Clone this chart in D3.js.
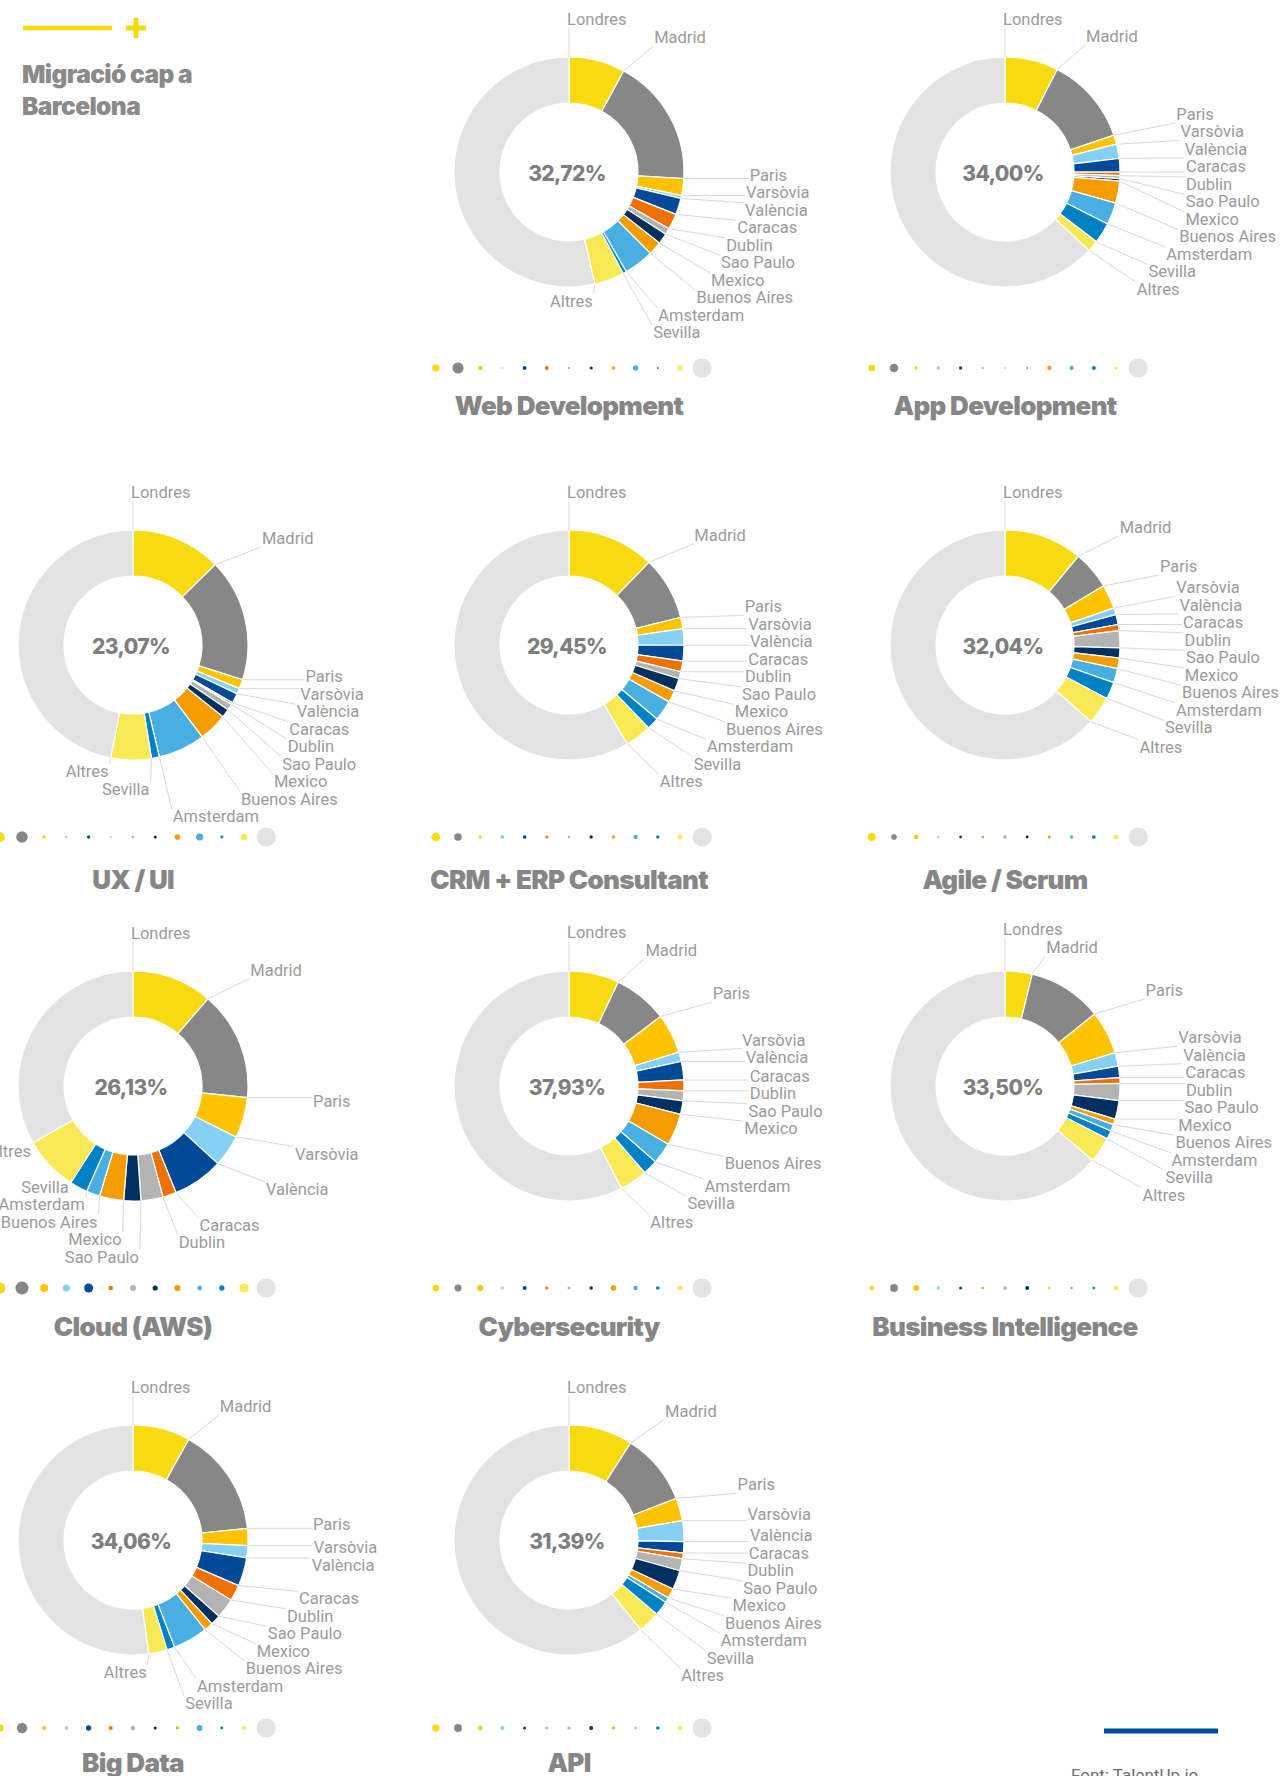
<!DOCTYPE html>
<html>
<head>
<meta charset="utf-8">
<script src="https://cdn.jsdelivr.net/npm/d3@7"></script>
<style>
  html, body { margin: 0; padding: 0; background: #fff; }
  svg { display: block; }
  .lbl { font-family: Roboto, "Liberation Sans", sans-serif; font-size: 16.5px; fill: #9b9b9b; }
  .pct { font-family: Inter, Roboto, sans-serif; font-weight: 800; font-size: 21px; fill: #7e7e7e; letter-spacing: -0.6px; }
  .ttl { font-family: Inter, Roboto, sans-serif; font-weight: 900; font-size: 26px; fill: #868686; letter-spacing: -0.7px; }
  .head { font-family: Inter, Roboto, sans-serif; font-weight: 900; font-size: 24.5px; fill: #8a8a8a; letter-spacing: -0.6px; }
  .src { font-family: Roboto, "Liberation Sans", sans-serif; font-size: 17px; fill: #6e6e6e; }
</style>
</head>
<body>
<svg id="chart" width="1287" height="1776"></svg>
<script>
// Destination cities, in slice order (clockwise from 12 o'clock)
const cities = ["Londres", "Madrid", "Paris", "Varsòvia", "València", "Caracas", "Dublin",
                "Sao Paulo", "Mexico", "Buenos Aires", "Amsterdam", "Sevilla", "Altres"];

// Professional profiles, one donut each
const profiles = ["Web Development", "App Development", "UX / UI", "CRM + ERP Consultant",
                  "Agile / Scrum", "Cloud (AWS)", "Cybersecurity", "Business Intelligence",
                  "Big Data", "API"];

// Share of migration towards Barcelona (centre figure), %
const barcelonaShare = [32.72, 34.00, 23.07, 29.45, 32.04, 26.13, 37.93, 33.50, 34.06, 31.39];

// Distribution of the remaining destinations, % per city
const webDevelopment       = [7.9, 18.0, 2.4, 0.4, 2.3, 2.2, 0.9, 1.5, 1.9, 4.2, 0.5, 4.2, 53.6];
const appDevelopment       = [7.5, 12.3, 1.3, 2.0, 1.9, 0.5, 0.4, 0.35, 3.1, 3.1, 2.9, 1.6, 63.0];
const uxUi                 = [12.7, 17.2, 1.3, 0.8, 1.4, 0.25, 0.9, 1.2, 4.0, 6.6, 1.1, 5.7, 46.9];
const crmErp               = [12.25, 8.9, 1.6, 2.3, 2.2, 1.5, 1.0, 1.8, 1.7, 2.9, 1.7, 3.7, 58.5];
const agileScrum           = [11.0, 5.4, 3.4, 0.95, 1.4, 0.85, 2.4, 1.4, 1.5, 2.0, 2.4, 3.9, 63.4];
const cloudAws             = [11.3, 15.3, 5.7, 4.5, 7.1, 1.9, 3.1, 2.4, 3.4, 1.9, 2.5, 7.7, 33.2];
const cybersecurity        = [7.05, 7.6, 5.6, 1.3, 2.6, 1.5, 1.4, 1.9, 4.5, 3.0, 2.1, 3.9, 57.5];
const businessIntelligence = [3.8, 10.4, 6.1, 1.9, 1.6, 0.8, 2.4, 2.6, 0.8, 0.95, 1.2, 3.6, 63.7];
const bigData              = [8.05, 15.3, 2.4, 1.7, 4.0, 2.25, 2.8, 1.4, 1.25, 4.9, 1.1, 2.6, 52.1];
const api                  = [9.0, 10.1, 3.2, 2.9, 1.6, 0.8, 1.7, 2.7, 1.4, 0.7, 2.05, 3.1, 60.7];

const profileShares = [webDevelopment, appDevelopment, uxUi, crmErp, agileScrum,
                       cloudAws, cybersecurity, businessIntelligence, bigData, api];

// City palette
const cityColors = ["#F8DA10", "#878787", "#FDC300", "#86D0F5", "#004A98", "#EE7203", "#B3B3B3",
                    "#00305F", "#F49C00", "#49AEE2", "#0081C6", "#F9E954", "#E3E3E3"];

// ---- layout ----
const colX = [133, 569, 1005];
const rows = [
  { donut: 172,  dots: 368,  title: 406 },
  { donut: 645,  dots: 837,  title: 880 },
  { donut: 1086, dots: 1288, title: 1327 },
  { donut: 1540, dots: 1728, title: 1763 }
];
const rOuter = 115, rInner = 69;
const dotStep = 22.2, dotMaxR = 9.6;
const labelGap = 17.5;

const caLocale = d3.formatLocale({ decimal: ",", thousands: ".", grouping: [3], currency: ["", " €"] });
const fmtPct = v => caLocale.format(".2f")(v) + "%";

const svg = d3.select("#chart");
const color = d3.scaleOrdinal().domain(cities).range(cityColors);
const pie = d3.pie().sort(null).value(d => d.value);
const arc = d3.arc().innerRadius(rInner).outerRadius(rOuter);

// ---- header ----
const head = svg.append("g");
head.append("line").attr("x1", 23).attr("x2", 112).attr("y1", 28).attr("y2", 28)
  .attr("stroke", "#F8DA10").attr("stroke-width", 4.5);
head.append("path").attr("d", "M126,28H146M136,18V38")
  .attr("stroke", "#F8DA10").attr("stroke-width", 5).attr("fill", "none");
head.append("text").attr("class", "head").attr("x", 22).attr("y", 83).text("Migració cap a");
head.append("text").attr("class", "head").attr("x", 22).attr("y", 115).text("Barcelona");

// spread overlapping labels vertically; a crowded group sits between its
// centred position and a plain downward push from its first label
function resolveLabels(items) {
  items.sort((a, b) => a.y0 - b.y0);
  const place = list => 0.5 * d3.mean(list, (it, k) => it.y0 - k * labelGap) + 0.5 * list[0].y0;
  let groups = items.map(it => ({ items: [it], top: it.y0 }));
  let changed = true;
  while (changed) {
    changed = false;
    for (let i = 1; i < groups.length; i++) {
      const a = groups[i - 1], b = groups[i];
      if (a.top + a.items.length * labelGap > b.top) {
        const merged = a.items.concat(b.items);
        groups.splice(i - 1, 2, { items: merged, top: place(merged) });
        changed = true;
        break;
      }
    }
  }
  groups.forEach(g => g.items.forEach((it, k) => { it.y = g.top + k * labelGap; }));
}

profiles.forEach((name, i) => {
  const cell = i + 1;
  const row = rows[Math.floor(cell / 3)];
  const cx = colX[cell % 3];
  const cy = row.donut;
  const data = cities.map((c, j) => ({ city: c, value: profileShares[i][j] }));
  const arcs = pie(data);

  const g = svg.append("g").attr("class", "profile");
  const donut = g.append("g").attr("transform", `translate(${cx},${cy})`);

  donut.selectAll("path").data(arcs).join("path")
    .attr("d", arc)
    .attr("fill", d => color(d.data.city))
    .attr("stroke", "#fff").attr("stroke-width", 1.2);

  donut.append("text").attr("class", "pct")
    .attr("x", -2).attr("y", 1).attr("dy", "0.36em").attr("text-anchor", "middle")
    .text(fmtPct(barcelonaShare[i]));

  // labels anchored at each slice's leading edge
  const labels = arcs.map(d => {
    const a = d.startAngle;
    const deg = a * 180 / Math.PI;
    const left = deg >= 167;
    const rx = left ? rOuter : rOuter + 68;
    const ry = left ? rOuter + 18 : rOuter + 38;
    return {
      city: d.data.city, angle: a, left,
      x: cx + rx * Math.sin(a) - 2,
      y0: cy - ry * Math.cos(a)
    };
  });
  resolveLabels(labels.filter(l => !l.left));
  resolveLabels(labels.filter(l => l.left));

  const lineG = g.append("g");
  const textG = g.append("g");
  labels.forEach(l => {
    const t = textG.append("text").attr("class", "lbl")
      .attr("x", l.x).attr("y", l.y).attr("dy", "0.35em")
      .attr("text-anchor", l.left ? "end" : "start")
      .text(l.city);
    const bb = t.node().getBBox();
    const px = cx + rOuter * Math.sin(l.angle), py = cy - rOuter * Math.cos(l.angle);
    const qx = Math.max(bb.x - 1, Math.min(bb.x + bb.width + 1, px));
    const qy = Math.max(bb.y + 2, Math.min(bb.y + bb.height - 1, py));
    lineG.append("line")
      .attr("x1", px).attr("y1", py).attr("x2", qx).attr("y2", qy)
      .attr("stroke", "#d9d9d9").attr("stroke-width", 1);
  });

  // dot row: area proportional to each city's share
  const rDot = d3.scaleSqrt().domain([0, d3.max(data, d => d.value)]).range([0, dotMaxR]);
  const xDot = d3.scaleLinear().domain([0, cities.length - 1])
    .range([cx - dotStep * (cities.length - 1) / 2, cx + dotStep * (cities.length - 1) / 2]);
  g.append("g").selectAll("circle").data(data).join("circle")
    .attr("cx", (d, j) => xDot(j)).attr("cy", row.dots)
    .attr("r", d => rDot(d.value))
    .attr("fill", d => color(d.city));

  g.append("text").attr("class", "ttl")
    .attr("x", cx).attr("y", row.title).attr("dy", "0.35em").attr("text-anchor", "middle")
    .text(name);
});

// ---- footer ----
svg.append("line").attr("x1", 1104).attr("x2", 1218).attr("y1", 1731).attr("y2", 1731)
  .attr("stroke", "#004A98").attr("stroke-width", 5);
svg.append("text").attr("class", "src").attr("x", 1071).attr("y", 1781).text("Font: TalentUp.io");
</script>
</body>
</html>
